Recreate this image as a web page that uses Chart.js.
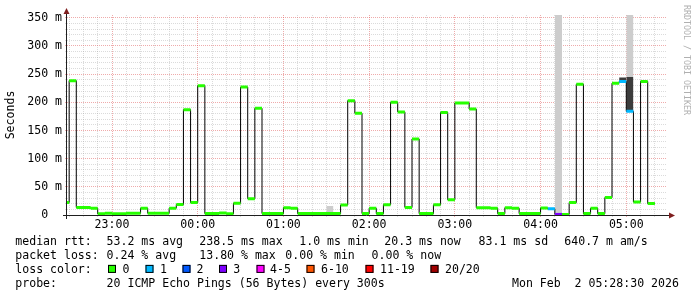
<!DOCTYPE html>
<html>
<head>
<meta charset="utf-8">
<script src="https://cdn.jsdelivr.net/npm/chart.js@4.4.1/dist/chart.umd.min.js"></script>
<style>
  html, body { margin: 0; padding: 0; background: #fff; }
  canvas { display: block; }
</style>
</head>
<body>
<canvas id="chart" width="697" height="297"></canvas>
<script>
// Smokeping style median rtt graph, last 7 hours

// RRD step start times (5 min steps, the first one is cut by the graph start)
const stepStart = [
    '22:28:30', '22:30', '22:35', '22:40', '22:45', '22:50', '22:55',
    '23:00', '23:05', '23:10', '23:15', '23:20', '23:25', '23:30', '23:35', '23:40', '23:45', '23:50', '23:55',
    '00:00', '00:05', '00:10', '00:15', '00:20', '00:25', '00:30', '00:35', '00:40', '00:45', '00:50', '00:55',
    '01:00', '01:05', '01:10', '01:15', '01:20', '01:25', '01:30', '01:35', '01:40', '01:45', '01:50', '01:55',
    '02:00', '02:05', '02:10', '02:15', '02:20', '02:25', '02:30', '02:35', '02:40', '02:45', '02:50', '02:55',
    '03:00', '03:05', '03:10', '03:15', '03:20', '03:25', '03:30', '03:35', '03:40', '03:45', '03:50', '03:55',
    '04:00', '04:05', '04:10', '04:15', '04:20', '04:25', '04:30', '04:35', '04:40', '04:45', '04:50', '04:55',
    '05:00', '05:05', '05:10', '05:15'
];
const lastStepEnd = '05:20';

// median rtt in ms
const medianMs = [
    22, 238.5, 13.5, 13.5, 12, 2, 3,
    2, 2, 3, 3, 12, 3, 3, 3, 12, 18.5, 187, 22,
    229.5, 2.5, 2.5, 3.5, 2, 21, 227, 29, 189.5, 2.5, 2.5, 2.5,
    13, 12, 2.5, 2.5, 2.5, 2.5, 2.5, 2.5, 17.7, 203, 180.7, 2.5,
    12, 2.5, 18.3, 200, 183, 13.5, 135, 2.5, 2.5, 18, 182, 27,
    199, 199, 188, 13, 13, 12, 2.5, 13, 12, 2.5, 2.5, 2.5,
    12.5, 11, 1, 1, 22, 232, 2.5, 12, 2.5, 31, 234, 236.8,
    184, 23, 237, 20.3
];

// lost pings (of 20) per step
const lostPings = [
    0, 0, 0, 0, 0, 0, 0,
    0, 0, 0, 0, 0, 0, 0, 0, 0, 0, 0, 0,
    0, 0, 0, 0, 0, 0, 0, 0, 0, 0, 0, 0,
    0, 0, 0, 0, 0, 0, 0, 0, 0, 0, 0, 0,
    0, 0, 0, 0, 0, 0, 0, 0, 0, 0, 0, 0,
    0, 0, 0, 0, 0, 0, 0, 0, 0, 0, 0, 0,
    0, 1, 3, 0, 0, 0, 0, 0, 0, 0, 0, 1,
    1, 0, 0, 0
];

// smoke (spread of the single pings), only where it shows
const smokeAt    = ['01:30', '04:10', '04:55', '05:00', '05:00'];
const smokeLow   = [0, 0, 236.8, 184, 245];
const smokeHigh  = [16, 355, 244, 245, 355];
const smokeDense = [false, false, true, true, false];

const lossLabels = ['0', '1', '2', '3', '4-5', '6-10', '11-19', '20/20'];
const lossColors = ['#26ff00', '#00b8ff', '#0059ff', '#7e00ff', '#ff00ff', '#ff5500', '#ff0000', '#a10000'];

const rttStats  = ['53.2 ms avg', '238.5 ms max', '1.0 ms min', '20.3 ms now', '83.1 ms sd', '640.7 m am/s'];
const lossStats = ['0.24 % avg', '13.80 % max', '0.00 % min', '0.00 % now'];
const probeText = '20 ICMP Echo Pings (56 Bytes) every 300s';
const stampText = 'Mon Feb  2 05:28:30 2026';

const graphStart = '22:28:30';
const graphEnd = '05:28:30';

const FONT_FAMILY = '"DejaVu Sans Mono", "Liberation Mono", monospace';
const FONT_SIZE = 11.55;
const GRID = 'rgba(143,143,143,0.32)';
const MGRID = 'rgba(222,80,80,0.48)';
const AXIS = '#1f1f1f';
const ARROW = '#7f1f1f';

// minutes since 22:00
function toMin(t) {
    const p = t.split(':').map(Number);
    const h = p[0] < 12 ? p[0] + 24 : p[0];
    return (h - 22) * 60 + p[1] + (p[2] || 0) / 60;
}

function clock(v) {
    const h = Math.round(22 + v / 60) % 24;
    return (h < 10 ? '0' : '') + h + ':00';
}

function gridTicks(min, max, step) {
    const ticks = [];
    for (let v = Math.ceil(min / step) * step; v <= max + 1e-9; v += step) ticks.push({ value: v });
    return ticks;
}

function lossBucket(n) {
    if (n <= 3) return n;
    if (n <= 5) return 4;
    if (n <= 10) return 5;
    if (n < 20) return 6;
    return 7;
}

const xMin = toMin(graphStart);
const xMax = toMin(graphEnd);
const starts = stepStart.map(toMin);
const ends = starts.slice(1).concat(toMin(lastStepEnd));

// black step line through the medians
const medianPoints = starts.map((x, i) => ({ x: x, y: medianMs[i] }));
medianPoints.push({ x: ends[ends.length - 1], y: medianMs[medianMs.length - 1] });

// loss coloured bars on each median step
const lossSets = [];
lossColors.forEach((color, b) => {
    const pts = [];
    starts.forEach((x, i) => {
        if (lossBucket(lostPings[i]) !== b) return;
        pts.push({ x: x, y: medianMs[i] }, { x: ends[i], y: medianMs[i] }, { x: ends[i], y: null });
    });
    if (!pts.length) return;
    lossSets.push({
        label: 'loss ' + lossLabels[b],
        data: pts,
        borderColor: color,
        borderWidth: 3,
        spanGaps: false,
        fill: false,
        order: 0
    });
});

const smokeSets = smokeAt.map((t, i) => {
    const k = stepStart.indexOf(t);
    return {
        label: 'smoke',
        data: [{ x: starts[k], y: smokeHigh[i] }, { x: ends[k], y: smokeHigh[i] }],
        borderColor: 'rgba(0,0,0,0)',
        borderWidth: 0,
        backgroundColor: smokeDense[i] ? '#3c3c3c' : '#cdcdcd',
        fill: { value: smokeLow[i] },
        order: 2
    };
});

const rrdDecor = {
    id: 'rrdDecor',
    afterDraw(chart) {
        const ctx = chart.ctx;
        const a = chart.chartArea;
        ctx.save();

        // axes
        ctx.strokeStyle = AXIS;
        ctx.lineWidth = 1;
        ctx.beginPath();
        ctx.moveTo(a.left - 4, a.bottom + 0.5);
        ctx.lineTo(a.right + 3, a.bottom + 0.5);
        ctx.moveTo(a.left - 0.5, a.bottom + 4);
        ctx.lineTo(a.left - 0.5, a.top - 3);
        ctx.stroke();

        ctx.fillStyle = ARROW;
        ctx.beginPath();
        ctx.moveTo(a.left - 0.5, a.top - 7);
        ctx.lineTo(a.left - 3.5, a.top - 1);
        ctx.lineTo(a.left + 2.5, a.top - 1);
        ctx.closePath();
        ctx.fill();
        ctx.beginPath();
        ctx.moveTo(a.right + 8, a.bottom + 0.5);
        ctx.lineTo(a.right + 2, a.bottom - 2.5);
        ctx.lineTo(a.right + 2, a.bottom + 3.5);
        ctx.closePath();
        ctx.fill();

        // legend
        ctx.fillStyle = '#000';
        ctx.font = FONT_SIZE + 'px ' + FONT_FAMILY;
        ctx.textBaseline = 'alphabetic';
        ctx.textAlign = 'left';

        const rows = [245.3, 259.1, 272.9, 286.7];
        ctx.fillText('median rtt:', 15.3, rows[0]);
        [106.6, 199.3, 299.3, 384.3, 478.6, 564.3].forEach((x, i) => ctx.fillText(rttStats[i], x, rows[0]));

        ctx.fillText('packet loss:', 15.3, rows[1]);
        [106.6, 199.3, 285.3, 371.6].forEach((x, i) => ctx.fillText(lossStats[i], x, rows[1]));

        ctx.fillText('loss color:', 15.3, rows[2]);
        const boxX = [108, 145.5, 182.5, 219, 256.5, 306.5, 365.5, 430.5];
        const textX = [122.6, 160, 196.6, 233.3, 270, 321, 380, 445];
        lossLabels.forEach((lab, i) => {
            ctx.fillStyle = lossColors[i];
            ctx.fillRect(boxX[i], rows[2] - 8, 8, 8);
            ctx.strokeStyle = '#000';
            ctx.strokeRect(boxX[i] + 0.5, rows[2] - 7.5, 7, 7);
            ctx.fillStyle = '#000';
            ctx.fillText(lab, textX[i], rows[2]);
        });

        ctx.fillText('probe:', 15.3, rows[3]);
        ctx.fillText(probeText, 106.6, rows[3]);
        ctx.fillText(stampText, 512, rows[3]);

        // watermark
        ctx.translate(686, 5);
        ctx.rotate(Math.PI / 2);
        ctx.font = '8.3px ' + FONT_FAMILY;
        ctx.fillStyle = '#b0b0b0';
        ctx.textBaseline = 'middle';
        ctx.fillText('RRDTOOL / TOBI OETIKER', 0, 0);

        ctx.restore();
    }
};

new Chart(document.getElementById('chart'), {
    type: 'line',
    data: {
        datasets: [
            ...lossSets,
            {
                label: 'median',
                data: medianPoints,
                stepped: 'before',
                borderColor: '#000',
                borderWidth: 1,
                fill: false,
                order: 1
            },
            ...smokeSets
        ]
    },
    options: {
        responsive: false,
        animation: false,
        devicePixelRatio: 1,
        layout: { padding: { top: 15, right: 30, left: 0, bottom: 0 } },
        elements: { point: { radius: 0 }, line: { tension: 0 } },
        plugins: {
            legend: { display: false },
            tooltip: { enabled: false }
        },
        scales: {
            x: {
                type: 'linear',
                min: xMin,
                max: xMax,
                afterBuildTicks: s => { s.ticks = gridTicks(xMin, xMax, 10); },
                afterFit: s => { s.height = 82; },
                border: { display: false, dash: [1, 1] },
                grid: {
                    color: c => (c.tick && c.tick.value % 60 === 0 ? MGRID : GRID),
                    tickColor: c => (c.tick && c.tick.value % 60 === 0 ? MGRID : GRID),
                    tickLength: 2
                },
                ticks: {
                    autoSkip: false,
                    maxRotation: 0,
                    padding: 1,
                    color: '#000',
                    font: { family: FONT_FAMILY, size: FONT_SIZE },
                    callback: v => (v % 60 === 0 ? clock(v) : '')
                }
            },
            y: {
                min: 0,
                max: 355,
                afterBuildTicks: s => { s.ticks = gridTicks(0, 350, 10); },
                afterFit: s => { s.width = 67; },
                border: { display: false, dash: [1, 1] },
                grid: {
                    color: c => (c.tick && c.tick.value % 50 === 0 ? MGRID : GRID),
                    tickColor: c => (c.tick && c.tick.value % 50 === 0 ? MGRID : GRID),
                    tickLength: 2
                },
                ticks: {
                    autoSkip: false,
                    padding: 3,
                    color: '#000',
                    font: { family: FONT_FAMILY, size: FONT_SIZE },
                    callback: v => (v % 50 === 0 ? (v === 0 ? '0  ' : v + ' m') : '')
                },
                title: {
                    display: true,
                    text: 'Seconds',
                    color: '#000',
                    font: { family: FONT_FAMILY, size: FONT_SIZE },
                    padding: { top: 4, bottom: 0 }
                }
            }
        }
    },
    plugins: [rrdDecor]
});
</script>
</body>
</html>
